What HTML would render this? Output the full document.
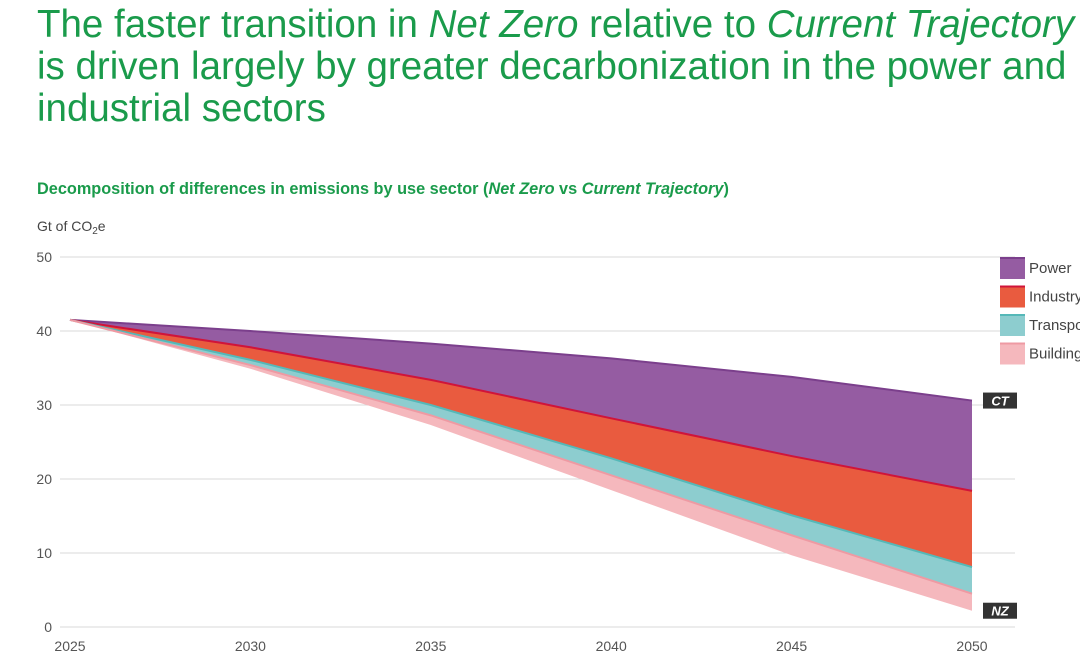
<!DOCTYPE html>
<html><head><meta charset="utf-8"><style>
body{margin:0;width:1080px;height:665px;overflow:hidden;background:#fff;font-family:"Liberation Sans",sans-serif;position:relative}
.t{position:absolute;left:37px;top:4px;color:#1a9b4b;font-size:38.5px;line-height:42px;font-weight:300;white-space:nowrap}
.s{position:absolute;left:37px;top:180px;color:#1a9b4b;font-size:16.3px;font-weight:bold;white-space:nowrap}
</style></head><body>
<div class="t">The faster transition in <i>Net Zero</i> relative to <i>Current Trajectory</i><br>is driven largely by greater decarbonization in the power and<br>industrial sectors</div>
<div class="s">Decomposition of differences in emissions by use sector (<i>Net Zero</i> vs <i>Current Trajectory</i>)</div>
<svg id="c" width="1080" height="665" style="position:absolute;left:0;top:0"></svg>
<script>
const years=[2025,2030,2035,2040,2045,2050];
const ct=[41.5,40,38.3,36.3,33.8,30.6];
const powerInd=[41.5,37.8,33.4,28.2,23.1,18.4];
const indTrans=[41.5,36.1,30,22.8,15.1,8.1];
const transBld=[41.5,35.4,28.6,20.5,12.4,4.5];
const nz=[41.5,34.9,27.3,18.5,9.7,2.2];
const yTicks=[0,10,20,30,40,50];
const xTicks=[2025,2030,2035,2040,2045,2050];
const X=v=>70+(v-2025)*36.08, Y=v=>627-v*7.4;
const svg=document.getElementById('c');const NS='http://www.w3.org/2000/svg';
function mk(t,a,p){const e=document.createElementNS(NS,t);for(const k in a)e.setAttribute(k,a[k]);(p||svg).appendChild(e);return e;}
yTicks.forEach(v=>{
 const l=mk('line',{x1:60,x2:1015,y1:Y(v),y2:Y(v),stroke:'#d8d8d8','stroke-width':1});
 
 const t=mk('text',{x:52,y:Y(v)+5,'text-anchor':'end','font-size':14,fill:'#555'});t.textContent=v;
 
});
xTicks.forEach(v=>{const t=mk('text',{x:X(v),y:651,'text-anchor':'middle','font-size':14,fill:'#555'});t.textContent=v;
 });
const yl=mk('text',{x:37,y:231,'font-size':14,fill:'#444'});yl.innerHTML='Gt of CO<tspan font-size="10" dy="3">2</tspan><tspan dy="-3">e</tspan>';

function band(top,bot,fill,stroke,name){
 let d='M'+years.map((y,i)=>X(y)+','+Y(top[i])).join('L');
 d+='L'+years.map((y,i)=>X(y)+','+Y(bot[i])).reverse().join('L')+'Z';
 const p=mk('path',{d,fill});
 mk('polyline',{points:years.map((y,i)=>X(y)+','+Y(top[i])).join(' '),fill:'none',stroke,'stroke-width':2});
}
band(ct,powerInd,'#955ca2','#7b3f8c','area-power');
band(powerInd,indTrans,'#e95b3f','#d0143a','area-industry');
band(indTrans,transBld,'#8dcdcf','#55b8b8','area-transport');
band(transBld,nz,'#f5b8bd','#ee9aa3','area-buildings');
[['CT',ct[5]],['NZ',nz[5]]].forEach(([s,v])=>{
 const g=mk('g',{});
 mk('rect',{x:983,y:Y(v)-8,width:34,height:16,fill:'#333'},g);
 const t=mk('text',{x:1000,y:Y(v)+5,'text-anchor':'middle','font-size':13,'font-weight':'bold','font-style':'italic',fill:'#fff'},g);t.textContent=s;
});
[['Power','#955ca2','#7b3f8c'],['Industry','#e95b3f','#d0143a'],['Transport','#8dcdcf','#55b8b8'],['Buildings','#f5b8bd','#ee9aa3']].forEach(([n,f,s],i)=>{
 const g=mk('g',{});
 const y=257+i*28.5;
 mk('rect',{x:1000,y,width:25,height:22,fill:f},g);
 mk('line',{x1:1000,x2:1025,y1:y+1,y2:y+1,stroke:s,'stroke-width':2},g);
 const t=mk('text',{x:1029,y:y+16,'font-size':15,fill:'#444'},g);t.textContent=n;
});
</script>
</body></html>
